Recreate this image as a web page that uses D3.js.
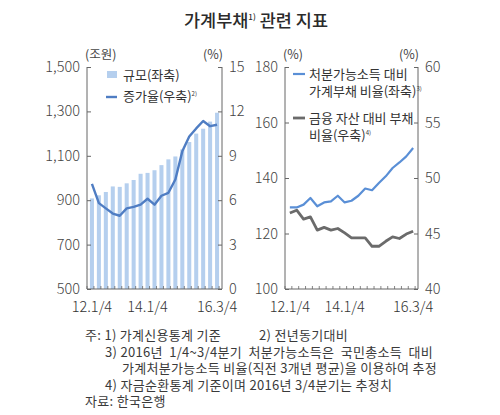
<!DOCTYPE html>
<html>
<head>
<meta charset="utf-8">
<script src="https://cdn.jsdelivr.net/npm/d3@7"></script>
<style>
  body { margin: 0; background: #fff; }
  svg text { font-family: "Noto Sans CJK KR", "Noto Sans", sans-serif; fill: #333; }
</style>
</head>
<body>
<div id="chart"></div>
<script>
// quarters 2012 Q1 .. 2016 Q3
var quarters = ["12.1/4","12.2/4","12.3/4","12.4/4","13.1/4","13.2/4","13.3/4","13.4/4",
                "14.1/4","14.2/4","14.3/4","14.4/4","15.1/4","15.2/4","15.3/4","15.4/4",
                "16.1/4","16.2/4","16.3/4"];
var tickLabels = ["12.1/4", "14.1/4", "16.3/4"];

// left panel: household credit (trillion won) and its yoy growth (%)
var debtSize = [908, 922, 937, 962, 960, 976, 991, 1019, 1023, 1035, 1058, 1084,
                1097, 1129, 1162, 1200, 1222, 1254, 1294];
var debtGrowth = [7.1, 5.8, 5.45, 5.1, 4.95, 5.45, 5.55, 5.7, 6.1, 5.7, 6.3, 6.5,
                  7.4, 9.3, 10.3, 10.85, 11.35, 11.0, 11.1];

// right panel: debt / disposable income (%), debt / financial assets (%)
var debtToIncome = [129.4, 129.4, 130.4, 132.8, 129.8, 131.2, 131.6, 133.6, 131.2, 131.8,
                    133.6, 136.2, 135.6, 138.2, 140.6, 143.6, 145.6, 147.8, 150.8];
var debtToAssets = [46.85, 47.1, 46.3, 46.5, 45.3, 45.55, 45.3, 45.45, 45.05, 44.6,
                    44.6, 44.6, 43.85, 43.85, 44.3, 44.7, 44.55, 44.95, 45.2];

var leftTicks = [500, 700, 900, 1100, 1300, 1500];
var leftRightTicks = [0, 3, 6, 9, 12, 15];
var rightTicks = [100, 120, 140, 160, 180];
var rightRightTicks = [40, 45, 50, 55, 60];

var W = 500, H = 415;
var svg = d3.select("#chart").append("svg").attr("width", W).attr("height", H);

var axisColor = "#666";
var plotTop = 67, plotBottom = 289;

// title
var title = svg.append("text").attr("x", 256).attr("y", 27)
    .attr("text-anchor", "middle").style("font-size", "17.5px").style("font-weight", 500)
    .style("fill", "#2b2b2b");
title.append("tspan").text("가계부채");
title.append("tspan").text("1)").style("font-size", "8px").attr("dy", -7);
title.append("tspan").text(" 관련 지표").attr("dy", 7);

function drawPanel(x0, x1, yL, yR, ticksL, ticksR, fmtL, unitL) {
    var g = svg.append("g");
    var x = d3.scaleBand().domain(quarters).range([x0, x1]).padding(0.42);

    // frame: left, right, bottom lines
    g.append("line").attr("x1", x0).attr("x2", x0).attr("y1", plotTop).attr("y2", plotBottom)
        .attr("stroke", axisColor).attr("stroke-width", 1);
    g.append("line").attr("x1", x1).attr("x2", x1).attr("y1", plotTop).attr("y2", plotBottom)
        .attr("stroke", axisColor).attr("stroke-width", 1);
    g.append("line").attr("x1", x0).attr("x2", x1).attr("y1", plotBottom).attr("y2", plotBottom)
        .attr("stroke", axisColor).attr("stroke-width", 1);

    // left axis ticks & labels
    var la = g.append("g").attr("transform", "translate(" + x0 + ",0)")
        .call(d3.axisRight(yL).tickValues(ticksL).tickSize(4).tickFormat(""));
    la.select(".domain").remove();
    la.selectAll("line").attr("stroke", axisColor);
    g.selectAll(".lt").data(ticksL).enter().append("text")
        .attr("x", x0 - 7).attr("y", function(d) { return yL(d) + 5; })
        .attr("text-anchor", "end").style("font-size", "14.5px").style("font-weight", 300)
        .style("fill", "#444").text(fmtL);

    var ra = g.append("g").attr("transform", "translate(" + x1 + ",0)")
        .call(d3.axisLeft(yR).tickValues(ticksR).tickSize(4).tickFormat(""));
    ra.select(".domain").remove();
    ra.selectAll("line").attr("stroke", axisColor);
    g.selectAll(".rt").data(ticksR).enter().append("text")
        .attr("x", x1 + 7).attr("y", function(d) { return yR(d) + 5; })
        .attr("text-anchor", "start").style("font-size", "14.5px").style("font-weight", 300)
        .style("fill", "#444").text(function(d) { return d; });

    // quarter tick marks along the bottom
    var step = x.step();
    var bt = d3.range(quarters.length + 1).map(function(i) { return x0 + i * step; });
    g.selectAll(".bt").data(bt).enter().append("line")
        .attr("x1", function(d) { return d; }).attr("x2", function(d) { return d; })
        .attr("y1", plotBottom).attr("y2", plotBottom - 3)
        .attr("stroke", axisColor).attr("stroke-width", 0.8);

    g.selectAll(".xl").data(tickLabels).enter().append("text")
        .attr("x", function(d) { return x(d) + x.bandwidth() / 2; })
        .attr("y", plotBottom + 23).attr("text-anchor", "middle")
        .style("font-size", "14.5px").style("font-weight", 300)
        .style("fill", "#333").text(function(d) { return d; });

    // unit labels
    g.append("text").attr("x", x0 - 2).attr("y", 59).style("font-size", "12.5px")
        .style("fill", "#444").text(unitL);
    g.append("text").attr("x", x1 + 1).attr("y", 59).attr("text-anchor", "end")
        .style("font-size", "12.5px").style("fill", "#444").text("(%)");
    return x;
}

// ---------- left panel ----------
var yL1 = d3.scaleLinear().domain([500, 1500]).range([plotBottom, plotTop]);
var yR1 = d3.scaleLinear().domain([0, 15]).range([plotBottom, plotTop]);

var xL = d3.scaleBand().domain(quarters).range([87, 222]).padding(0.42);
svg.append("g").selectAll("rect").data(debtSize).enter().append("rect")
    .attr("x", function(d, i) { return xL(quarters[i]); })
    .attr("width", xL.bandwidth())
    .attr("y", function(d) { return yL1(d); })
    .attr("height", function(d) { return plotBottom - yL1(d); })
    .attr("fill", "#b5cfee");

drawPanel(87, 222, yL1, yR1, leftTicks, leftRightTicks, d3.format(","), "(조원)");

svg.append("path").datum(debtGrowth)
    .attr("fill", "none").attr("stroke", "#4f7dc3").attr("stroke-width", 2.4)
    .attr("stroke-linejoin", "round")
    .attr("d", d3.line()
        .x(function(d, i) { return xL(quarters[i]) + xL.bandwidth() / 2; })
        .y(function(d) { return yR1(d); }));

// left legend
svg.append("rect").attr("x", 107).attr("y", 71).attr("width", 10).attr("height", 7).attr("fill", "#b5cfee");
svg.append("text").attr("x", 123).attr("y", 80).style("font-size", "13px").text("규모(좌축)");
svg.append("line").attr("x1", 106).attr("x2", 117).attr("y1", 97).attr("y2", 97)
    .attr("stroke", "#4f7dc3").attr("stroke-width", 2.4);
var lg2 = svg.append("text").attr("x", 123).attr("y", 101).style("font-size", "13px");
lg2.append("tspan").text("증가율(우축)");
lg2.append("tspan").text("2)").style("font-size", "6px").attr("dy", -5);

// ---------- right panel ----------
var yL2 = d3.scaleLinear().domain([100, 180]).range([plotBottom, plotTop]);
var yR2 = d3.scaleLinear().domain([40, 60]).range([plotBottom, plotTop]);
var xR = drawPanel(285, 418, yL2, yR2, rightTicks, rightRightTicks, function(d) { return d; }, "(%)");

svg.append("path").datum(debtToAssets)
    .attr("fill", "none").attr("stroke", "#6b6b6b").attr("stroke-width", 2.8)
    .attr("stroke-linejoin", "round")
    .attr("d", d3.line()
        .x(function(d, i) { return xR(quarters[i]) + xR.bandwidth() / 2; })
        .y(function(d) { return yR2(d); }));
svg.append("path").datum(debtToIncome)
    .attr("fill", "none").attr("stroke", "#5a8fd6").attr("stroke-width", 2.2)
    .attr("stroke-linejoin", "round")
    .attr("d", d3.line()
        .x(function(d, i) { return xR(quarters[i]) + xR.bandwidth() / 2; })
        .y(function(d) { return yL2(d); }));

// right legend
svg.append("line").attr("x1", 293).attr("x2", 305).attr("y1", 74).attr("y2", 74)
    .attr("stroke", "#5a8fd6").attr("stroke-width", 2.2);
svg.append("text").attr("x", 309).attr("y", 79).style("font-size", "13px").text("처분가능소득 대비");
var lg3 = svg.append("text").attr("x", 309).attr("y", 96).style("font-size", "13px");
lg3.append("tspan").text("가계부채 비율(좌축)");
lg3.append("tspan").text("3)").style("font-size", "6px").attr("dy", -5);
svg.append("line").attr("x1", 293).attr("x2", 305).attr("y1", 118).attr("y2", 118)
    .attr("stroke", "#6b6b6b").attr("stroke-width", 2.8);
svg.append("text").attr("x", 309).attr("y", 123).style("font-size", "13px").text("금융 자산 대비 부채");
var lg4 = svg.append("text").attr("x", 309).attr("y", 140).style("font-size", "13px");
lg4.append("tspan").text("비율(우축)");
lg4.append("tspan").text("4)").style("font-size", "6px").attr("dy", -5);

// ---------- notes ----------
var notes = [
    [85, 340, "주: 1) 가계신용통계 기준"],
    [259, 340, "2) 전년동기대비"],
    [105, 357, "3) 2016년  1/4~3/4분기  처분가능소득은  국민총소득  대비"],
    [122, 373, "가계처분가능소득 비율(직전 3개년 평균)을 이용하여 추정"],
    [105, 390, "4) 자금순환통계 기준이며 2016년 3/4분기는 추정치"],
    [85, 406, "자료: 한국은행"]
];
svg.selectAll(".note").data(notes).enter().append("text")
    .attr("x", function(d) { return d[0]; }).attr("y", function(d) { return d[1]; })
    .style("font-size", "13px").style("letter-spacing", "0.3px").style("white-space", "pre")
    .style("fill", "#3a3a3a")
    .text(function(d) { return d[2]; });
</script>
</body>
</html>
